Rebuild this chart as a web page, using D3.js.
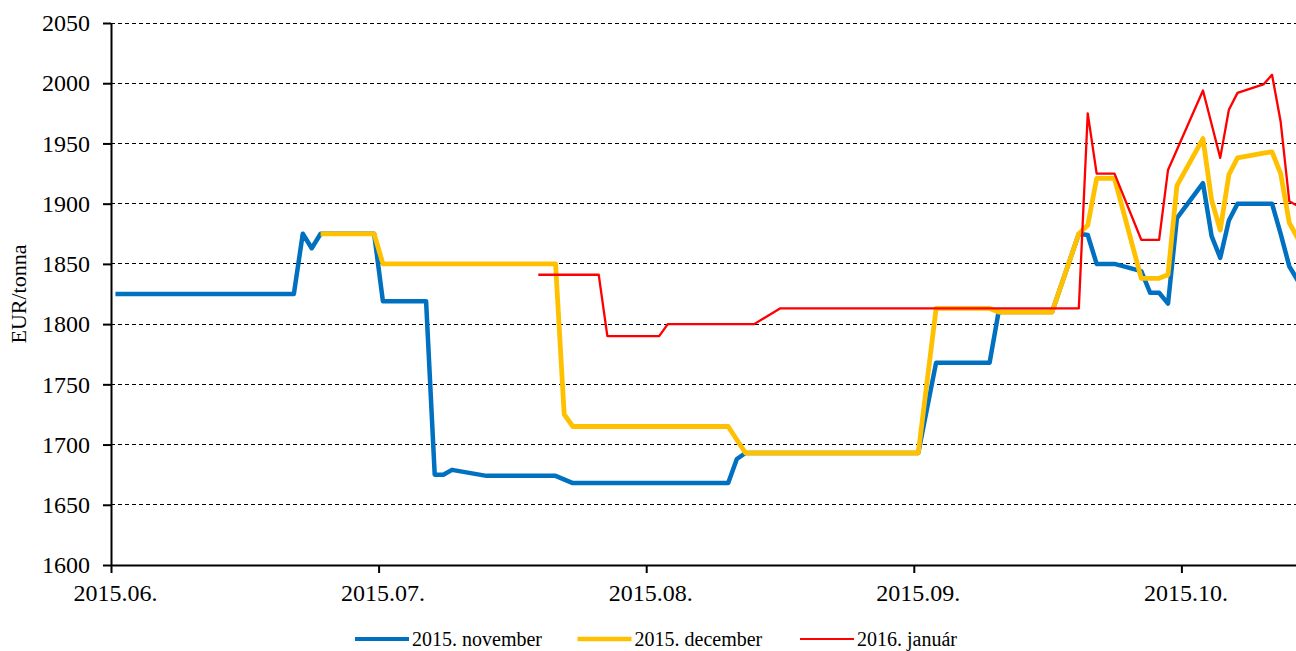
<!DOCTYPE html>
<html lang="hu">
<head>
<meta charset="utf-8">
<title>EUR/tonna</title>
<script src="https://cdn.jsdelivr.net/npm/d3@7"></script>
<style>
  html, body { margin: 0; padding: 0; background: #fff; overflow: hidden; }
  svg { display: block; }
  svg text { font-family: "Liberation Serif", "Times New Roman", serif; fill: #000; }
</style>
</head>
<body>
<svg id="chart" width="1296" height="651"></svg>
<script>
// Daily futures prices, EUR/tonna — one series per delivery month
const november = [
  ["2015-06-01", 1825], ["2015-06-21", 1825], ["2015-06-22", 1875], ["2015-06-23", 1863],
  ["2015-06-24", 1875], ["2015-06-30", 1875], ["2015-07-01", 1819], ["2015-07-06", 1819],
  ["2015-07-07", 1675], ["2015-07-08", 1675], ["2015-07-09", 1679], ["2015-07-13", 1674],
  ["2015-07-21", 1674], ["2015-07-23", 1668], ["2015-08-10", 1668], ["2015-08-11", 1688],
  ["2015-08-12", 1693], ["2015-09-01", 1693], ["2015-09-03", 1768], ["2015-09-09", 1768],
  ["2015-09-10", 1810], ["2015-09-16", 1810], ["2015-09-19", 1875], ["2015-09-20", 1874],
  ["2015-09-21", 1850], ["2015-09-23", 1850], ["2015-09-26", 1844], ["2015-09-27", 1826],
  ["2015-09-28", 1826], ["2015-09-29", 1817], ["2015-09-30", 1888], ["2015-10-03", 1917],
  ["2015-10-04", 1873], ["2015-10-05", 1855], ["2015-10-06", 1886], ["2015-10-07", 1900],
  ["2015-10-11", 1900], ["2015-10-12", 1875], ["2015-10-13", 1848], ["2015-10-14", 1836]
];
const december = [
  ["2015-06-24", 1875], ["2015-06-30", 1875], ["2015-07-01", 1850], ["2015-07-21", 1850],
  ["2015-07-22", 1725], ["2015-07-23", 1715], ["2015-08-10", 1715], ["2015-08-12", 1693],
  ["2015-09-01", 1693], ["2015-09-03", 1813], ["2015-09-09", 1813], ["2015-09-10", 1810],
  ["2015-09-16", 1810], ["2015-09-19", 1875], ["2015-09-20", 1882], ["2015-09-21", 1921],
  ["2015-09-23", 1921], ["2015-09-26", 1838], ["2015-09-28", 1838], ["2015-09-29", 1841],
  ["2015-09-30", 1915], ["2015-10-03", 1954], ["2015-10-04", 1903], ["2015-10-05", 1878],
  ["2015-10-06", 1924], ["2015-10-07", 1938], ["2015-10-10", 1942], ["2015-10-11", 1943],
  ["2015-10-12", 1925], ["2015-10-13", 1884], ["2015-10-14", 1871]
];
const january = [
  ["2015-07-19", 1841], ["2015-07-26", 1841], ["2015-07-27", 1790], ["2015-08-02", 1790],
  ["2015-08-03", 1800], ["2015-08-13", 1800], ["2015-08-16", 1813], ["2015-09-19", 1813],
  ["2015-09-20", 1975], ["2015-09-21", 1925], ["2015-09-23", 1925], ["2015-09-26", 1870],
  ["2015-09-28", 1870], ["2015-09-29", 1928], ["2015-10-03", 1994], ["2015-10-05", 1938],
  ["2015-10-06", 1978], ["2015-10-07", 1992], ["2015-10-10", 1999], ["2015-10-11", 2007],
  ["2015-10-12", 1968], ["2015-10-13", 1902], ["2015-10-14", 1898]
];

const seriesNames = ["2015. november", "2015. december", "2016. január"];
const seriesColors = ["#0070C0", "#FFC000", "#FF0000"];
const seriesWidths = [4.5, 4.8, 2.3];

const yTicks = [1600, 1650, 1700, 1750, 1800, 1850, 1900, 1950, 2000, 2050];
const monthTicks = ["2015-06-01", "2015-07-01", "2015-08-01", "2015-09-01", "2015-10-01"];

(function draw() {
  // ---- layout ----
  const width = 1296;
  const plotLeft = 111, plotTop = 23, plotBottom = 565;
  const monthWidth = 267.6;
  const serif = '"Liberation Serif", "Times New Roman", serif';

  const parse = d3.timeParse("%Y-%m-%d");
  const svg = d3.select("#chart");

  // every calendar month gets the same width on the axis
  const monthStarts = d3.timeMonth.range(parse("2015-06-01"), parse("2015-12-01"));
  const x = d3.scaleTime()
    .domain(monthStarts)
    .range(monthStarts.map((d, i) => plotLeft + i * monthWidth));

  const y = d3.scaleLinear().domain([1600, 2050]).range([plotBottom, plotTop]);

  // a daily value sits in the middle of its day
  const xPos = d => x(d3.timeHour.offset(d, 12));

  // horizontal dashed gridlines
  svg.append("g")
    .selectAll("line")
    .data(yTicks.slice(1))
    .join("line")
    .attr("x1", plotLeft).attr("x2", width)
    .attr("y1", d => y(d)).attr("y2", d => y(d))
    .attr("stroke", "#000")
    .attr("stroke-width", 1)
    .attr("stroke-dasharray", "4,3")
    .attr("shape-rendering", "crispEdges");

  // series lines
  const line = d3.line()
    .x(d => xPos(parse(d[0])))
    .y(d => y(d[1]));

  [november, december, january].forEach((s, i) => {
    svg.append("path")
      .datum(s)
      .attr("fill", "none")
      .attr("stroke", seriesColors[i])
      .attr("stroke-width", seriesWidths[i])
      .attr("stroke-linejoin", "round")
      .attr("d", line);
  });

  // y axis
  const yAxis = svg.append("g")
    .attr("transform", `translate(${plotLeft},0)`)
    .call(d3.axisLeft(y).tickValues(yTicks).tickFormat(d3.format("d"))
      .tickSize(8).tickSizeOuter(0).tickPadding(13));
  yAxis.attr("font-family", null);
  yAxis.select(".domain").attr("stroke-width", 2);
  yAxis.selectAll(".tick line").attr("stroke-width", 2);
  yAxis.selectAll("text").style("font-family", serif).style("font-size", "24px");

  // x axis
  const xAxis = svg.append("g")
    .attr("transform", `translate(0,${plotBottom})`)
    .call(d3.axisBottom(x)
      .tickValues(monthTicks.map(parse))
      .tickFormat(d3.timeFormat("%Y.%m."))
      .tickSize(8).tickSizeOuter(0).tickPadding(11));
  xAxis.attr("font-family", null);
  xAxis.select(".domain").attr("stroke-width", 2);
  xAxis.selectAll(".tick line").attr("stroke-width", 2);
  xAxis.selectAll("text").attr("dx", 4)
    .style("font-family", serif).style("font-size", "24px");

  // y axis title
  svg.append("text")
    .attr("transform", `translate(26,${(plotTop + plotBottom) / 2}) rotate(-90)`)
    .attr("text-anchor", "middle")
    .style("font-size", "22px")
    .text("EUR/tonna");

  // legend
  const legend = svg.append("g").attr("transform", "translate(355,639)");
  const item = legend.selectAll("g")
    .data(seriesNames)
    .join("g")
    .attr("transform", (d, i) => `translate(${i * 222.5},0)`);
  item.append("line")
    .attr("x1", 0).attr("x2", 54)
    .attr("stroke", (d, i) => seriesColors[i])
    .attr("stroke-width", (d, i) => seriesWidths[i] - 0.5);
  item.append("text")
    .attr("x", 57).attr("y", 7)
    .style("font-size", "20px")
    .text(d => d);
})();
</script>
</body>
</html>
